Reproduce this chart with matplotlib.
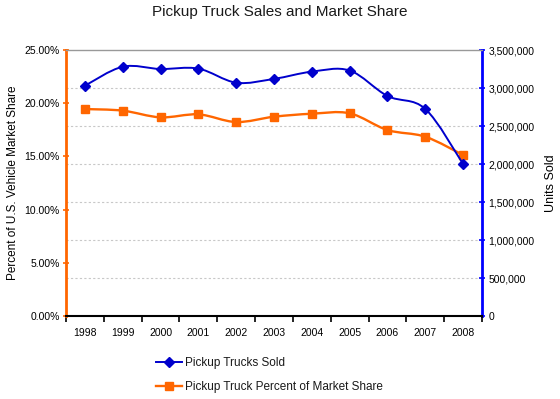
import numpy as np
import matplotlib.pyplot as plt
from matplotlib.path import Path
from matplotlib.patches import PathPatch
from matplotlib.lines import Line2D
from matplotlib.ticker import FuncFormatter

# ── Data ─────────────────────────────────────────────────────────────────────

years = ["1998", "1999", "2000", "2001", "2002", "2003",
         "2004", "2005", "2006", "2007", "2008"]
units_sold = [3030000, 3280000, 3250000, 3255000, 3070000, 3120000,
              3215000, 3230000, 2895000, 2725000, 2000000]
market_share = [19.45, 19.30, 18.67, 18.95, 18.23, 18.73,
                19.01, 19.05, 17.48, 16.85, 15.13]

# ── Style ─────────────────────────────────────────────────────────────────────

plt.rcParams.update({
    "font.family": ["Liberation Sans", "DejaVu Sans"],
    "font.size": 7.5,
    "text.color": "#1a1a1a",
})

BLUE = "#0000cc"
BLUE_AXIS = "#0000ff"
ORANGE = "#ff6600"
BG = "#f6f5ef"
GRID = "#c8c8c8"


def smooth_path(xs, ys):
    """Catmull-Rom style Bezier path through the points (like Excel smoothing)."""
    pts = np.column_stack([xs, ys]).astype(float)
    verts = [pts[0]]
    codes = [Path.MOVETO]
    n = len(pts)
    for i in range(n - 1):
        p0 = pts[i - 1] if i > 0 else pts[i]
        p1, p2 = pts[i], pts[i + 1]
        p3 = pts[i + 2] if i + 2 < n else pts[i + 1]
        c1 = p1 + (p2 - p0) / 6.0
        c2 = p2 - (p3 - p1) / 6.0
        verts += [c1, c2, p2]
        codes += [Path.CURVE4] * 3
    return Path(verts, codes)


x = np.arange(len(years))

fig = plt.figure(figsize=(5.6, 3.99), dpi=100)
ax1 = fig.add_axes([66 / 560, 1 - 316 / 399, 416 / 560, 266 / 399])
ax2 = ax1.twinx()

# ax2 holds background + gridlines, ax1 sits on top
ax2.set_zorder(0)
ax1.set_zorder(1)
ax1.patch.set_visible(False)
ax2.patch.set_facecolor(BG)

ax1.set_xlim(-0.5, len(years) - 0.5)
ax1.set_ylim(0, 25)
ax2.set_ylim(0, 3500000)

# Market share (left axis)
ax1.add_patch(PathPatch(smooth_path(x, market_share), fill=False,
                        edgecolor=ORANGE, lw=1.7, zorder=2))
ax1.plot(x, market_share, ls="none", marker="s", ms=5.5,
         color=ORANGE, zorder=3)

# Units sold (right axis scale, drawn in ax1 so it stays above the grid)
ax1.add_patch(PathPatch(smooth_path(x, units_sold), fill=False,
                        edgecolor=BLUE, lw=1.4, zorder=4,
                        transform=ax2.transData))
ax1.plot(x, units_sold, ls="none", marker="D", ms=5,
         color=BLUE, zorder=5, transform=ax2.transData)

# Grid from the right axis
ax2.set_yticks(np.arange(0, 3500001, 500000))
for v in range(500000, 3500000, 500000):
    ax2.axhline(v, color=GRID, lw=0.8, ls=(0, (2, 2)), zorder=0)
ax2.yaxis.set_major_formatter(FuncFormatter(lambda v, p: f"{int(v):,}"))

ax1.set_yticks(np.arange(0, 25.01, 5))
ax1.yaxis.set_major_formatter(FuncFormatter(lambda v, p: f"{v:.2f}%"))

# Category axis: ticks on boundaries, labels centred
ax1.set_xticks(np.arange(-0.5, len(years)), labels=[""] * (len(years) + 1))
ax1.set_xticks(x, labels=years, minor=True)
ax1.tick_params(axis="x", which="major", direction="out", length=4,
                width=1.2, color="black")
ax1.tick_params(axis="x", which="minor", length=0, pad=9)

ax1.tick_params(axis="y", direction="inout", length=5, width=1.2,
                color=ORANGE, pad=2)
ax2.tick_params(axis="y", direction="inout", length=5, width=1.2,
                color=BLUE_AXIS, pad=2)

for s in ["left", "right", "top", "bottom"]:
    ax2.spines[s].set_visible(False)
ax2.spines["right"].set_visible(True)
ax2.spines["right"].set_color(BLUE_AXIS)
ax2.spines["right"].set_linewidth(2)

ax1.spines["right"].set_visible(False)
ax1.spines["left"].set_color(ORANGE)
ax1.spines["left"].set_linewidth(2)
ax1.spines["top"].set_color("#999999")
ax1.spines["top"].set_linewidth(1)
ax1.spines["bottom"].set_color("black")
ax1.spines["bottom"].set_linewidth(1.5)

ax1.set_ylabel("Percent of U.S. Vehicle Market Share", fontsize=8.5, labelpad=4)
ax2.set_ylabel("Units Sold", fontsize=9, labelpad=8)

fig.text(0.5, 1 - 12 / 399, "Pickup Truck Sales and Market Share",
         ha="center", va="center", fontsize=11)

handles = [
    Line2D([0], [0], color=BLUE, lw=1.4, marker="D", ms=5,
           label="Pickup Trucks Sold"),
    Line2D([0], [0], color=ORANGE, lw=1.7, marker="s", ms=5.5,
           label="Pickup Truck Percent of Market Share"),
]
fig.legend(handles=handles, loc="upper left",
           bbox_to_anchor=(150 / 560, 1 - 351 / 399),
           frameon=False, fontsize=8.5, handlelength=2.2, handletextpad=0.3,
           labelspacing=1.0, borderpad=0)

fig.savefig("out.png", dpi=100)
